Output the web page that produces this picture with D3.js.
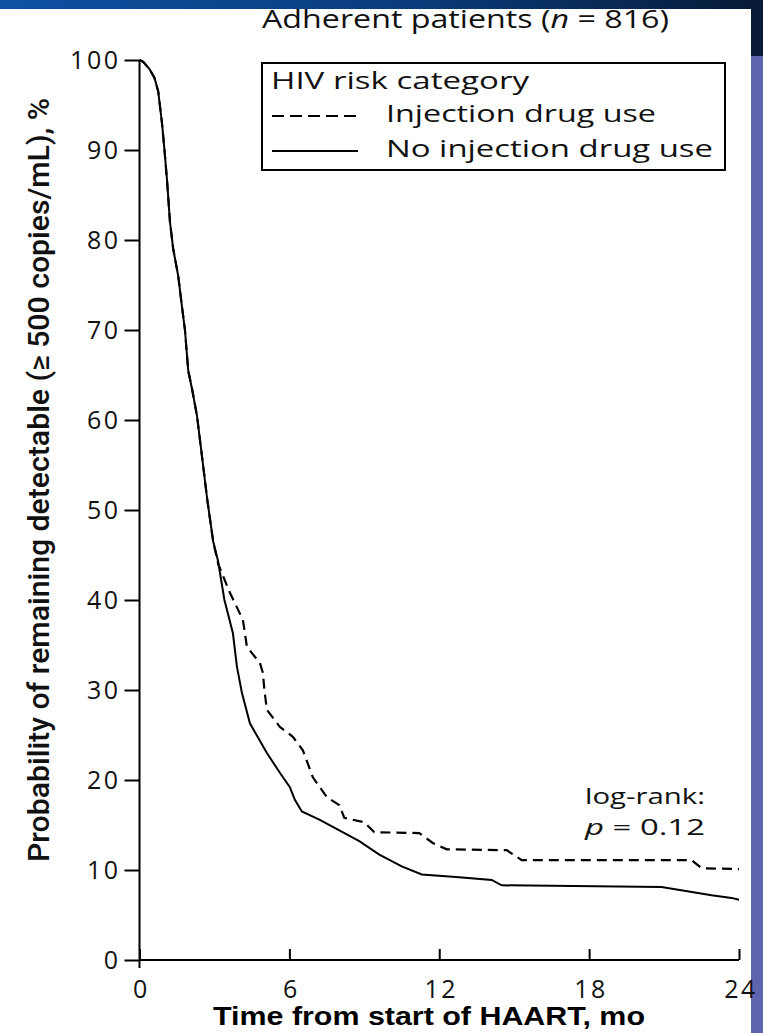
<!DOCTYPE html>
<html>
<head>
<meta charset="utf-8">
<script src="https://cdn.jsdelivr.net/npm/d3@7"></script>
<style>
  html, body { margin: 0; padding: 0; background: #ffffff; }
  svg { display: block; }
  .lbl { font-family: "Open Sans", "Lato", sans-serif; fill: #111; }
</style>
</head>
<body>
<svg id="chart" width="763" height="1033"></svg>
<script>
// Kaplan-Meier style survival estimates, months vs % still detectable
const idu_months = [0, 0.15, 0.4, 0.6, 0.75, 0.9, 1.0, 1.1, 1.22, 1.35, 1.55, 1.7, 1.82, 1.95, 2.1, 2.3, 2.5, 2.72, 2.95, 3.15, 3.4, 3.62, 4.14, 4.3, 4.82, 4.94, 5.0, 5.1, 5.62, 6.14, 6.54, 6.94, 7.5, 8.0, 8.2, 9.0, 9.4, 11.2, 11.74, 12.3, 14.7, 15.3, 22.1, 22.5, 24];
const idu_pct    = [100, 99.8, 99, 98, 96.5, 93, 90, 86.7, 82, 79, 76, 72.6, 70, 65.5, 63.5, 60.5, 56, 51, 46.5, 44, 42.3, 40.8, 37.8, 34.8, 33, 31.9, 30, 27.8, 25.9, 24.8, 23.3, 20.3, 18.1, 17.2, 15.8, 15.3, 14.2, 14.1, 13.0, 12.3, 12.2, 11.1, 11.1, 10.2, 10.1];

const noidu_months = [0, 0.15, 0.4, 0.6, 0.75, 0.9, 1.0, 1.1, 1.22, 1.35, 1.55, 1.7, 1.82, 1.95, 2.1, 2.3, 2.5, 2.72, 2.95, 3.14, 3.4, 3.74, 3.9, 4.1, 4.42, 5.1, 5.62, 6.02, 6.22, 6.5, 7.2, 8.0, 8.8, 9.6, 10.5, 11.3, 12.8, 14.1, 14.5, 20.9, 22.9, 23.7, 24];
const noidu_pct    = [100, 99.8, 99, 98, 96.5, 93, 90, 86.7, 82, 79, 76, 72.6, 70, 65.5, 63.5, 60.5, 56, 51, 46.5, 44.4, 40, 36.3, 32.6, 29.7, 26.3, 23, 20.8, 19.2, 17.8, 16.5, 15.6, 14.4, 13.2, 11.7, 10.4, 9.5, 9.2, 8.9, 8.3, 8.1, 7.2, 6.9, 6.7];

const xTicks = [0, 6, 12, 18, 24];
const yTicks = [0, 10, 20, 30, 40, 50, 60, 70, 80, 90, 100];
const seriesNames = ["Injection drug use", "No injection drug use"];

const svg = d3.select("#chart");

// page frame: gradient band on top, coloured strip on the right
const defs = svg.append("defs");
const grad = defs.append("linearGradient").attr("id", "band").attr("x1", 0).attr("x2", 1).attr("y1", 0).attr("y2", 0);
grad.append("stop").attr("offset", "0%").attr("stop-color", "#0d52a3");
grad.append("stop").attr("offset", "55%").attr("stop-color", "#0a3b7a");
grad.append("stop").attr("offset", "100%").attr("stop-color", "#071a36");
svg.append("rect").attr("x", 0).attr("y", 0).attr("width", 763).attr("height", 9).attr("fill", "url(#band)");
svg.append("rect").attr("x", 751).attr("y", 0).attr("width", 12).attr("height", 56).attr("fill", "#071a36");
svg.append("rect").attr("x", 751).attr("y", 56).attr("width", 12).attr("height", 977).attr("fill", "#5f64ae");

const x = d3.scaleLinear().domain([0, 24]).range([139.5, 739]);
const y = d3.scaleLinear().domain([0, 100]).range([960, 60]);

// y axis
const yAxis = svg.append("g").attr("transform", "translate(139.5,0)")
  .call(d3.axisLeft(y).tickValues(yTicks).tickSize(15).tickPadding(4).tickSizeOuter(0));
yAxis.select(".domain").remove();
yAxis.append("line").attr("x1", 0).attr("x2", 0).attr("y1", y(100)).attr("y2", y(0) + 8)
  .attr("stroke", "#000").attr("stroke-width", 2);
yAxis.selectAll(".tick line").attr("stroke", "#000").attr("stroke-width", 2);
yAxis.selectAll(".tick text").attr("class", "lbl").attr("font-size", 25).attr("letter-spacing", 2.5)
  .attr("fill", "#1a1a1a");

// x axis, ticks pointing up into the plot
const xAxis = svg.append("g").attr("transform", `translate(0,${y(0)})`)
  .call(d3.axisBottom(x).tickValues(xTicks).tickSize(-11).tickPadding(20).tickSizeOuter(0));
xAxis.select(".domain").remove();
xAxis.append("line").attr("x1", x(0)).attr("x2", x(24)).attr("y1", 0).attr("y2", 0)
  .attr("stroke", "#000").attr("stroke-width", 2);
xAxis.selectAll(".tick line").attr("stroke", "#000").attr("stroke-width", 2);
xAxis.selectAll(".tick text").attr("class", "lbl").attr("font-size", 25).attr("letter-spacing", 2.5)
  .attr("dx", 1.5).attr("fill", "#1a1a1a");

// survival curves
const line = d3.line().x(d => x(d[0])).y(d => y(d[1])).curve(d3.curveLinear);
const idu = d3.zip(idu_months, idu_pct);
const noidu = d3.zip(noidu_months, noidu_pct);

svg.append("path").datum(noidu).attr("d", line)
  .attr("fill", "none").attr("stroke", "#000").attr("stroke-width", 2);
svg.append("path").datum(idu).attr("d", line)
  .attr("fill", "none").attr("stroke", "#000").attr("stroke-width", 2.2).attr("stroke-dasharray", "10,6");

// titles
svg.append("text").attr("class", "lbl").attr("x", 262).attr("y", 28)
  .attr("font-size", 25).attr("textLength", 407).attr("lengthAdjust", "spacingAndGlyphs")
  .html('Adherent patients (<tspan font-style="italic">n</tspan> = 816)');

svg.append("text")
  .attr("transform", "translate(49,480) rotate(-90)")
  .attr("text-anchor", "middle")
  .attr("font-family", 'Roboto, "Liberation Sans", sans-serif')
  .attr("font-weight", 500).attr("font-size", 29).attr("fill", "#111")
  .attr("textLength", 764).attr("lengthAdjust", "spacingAndGlyphs")
  .text("Probability of remaining detectable  (\u2265 500 copies/mL), %");

svg.append("text")
  .attr("x", 429).attr("y", 1025).attr("text-anchor", "middle")
  .attr("font-family", '"Liberation Sans", sans-serif').attr("font-weight", "bold")
  .attr("font-size", 25).attr("fill", "#000")
  .attr("textLength", 432).attr("lengthAdjust", "spacingAndGlyphs")
  .text("Time from start of HAART, mo");

// legend
const lg = svg.append("g");
lg.append("rect").attr("x", 262).attr("y", 63).attr("width", 463).attr("height", 107)
  .attr("fill", "#fff").attr("stroke", "#000").attr("stroke-width", 2);
lg.append("text").attr("class", "lbl").attr("x", 271).attr("y", 89).attr("font-size", 24)
  .attr("textLength", 258).attr("lengthAdjust", "spacingAndGlyphs").text("HIV risk category");
const rows = [
  { name: seriesNames[0], dash: "12,6", cy: 116, w: 270 },
  { name: seriesNames[1], dash: null, cy: 151, w: 327 }
];
rows.forEach(r => {
  lg.append("line").attr("x1", 272).attr("x2", 358).attr("y1", r.cy).attr("y2", r.cy)
    .attr("stroke", "#000").attr("stroke-width", 2).attr("stroke-dasharray", r.dash);
  lg.append("text").attr("class", "lbl").attr("x", 386).attr("y", r.cy + 6).attr("font-size", 24)
    .attr("textLength", r.w).attr("lengthAdjust", "spacingAndGlyphs").text(r.name);
});

// test statistic
svg.append("text").attr("class", "lbl").attr("x", 585).attr("y", 804).attr("font-size", 22)
  .attr("textLength", 120).attr("lengthAdjust", "spacingAndGlyphs").text("log-rank:");
svg.append("text").attr("class", "lbl").attr("x", 585).attr("y", 835).attr("font-size", 22)
  .attr("textLength", 120).attr("lengthAdjust", "spacingAndGlyphs")
  .html('<tspan font-style="italic">p</tspan> = 0.12');
</script>
</body>
</html>
